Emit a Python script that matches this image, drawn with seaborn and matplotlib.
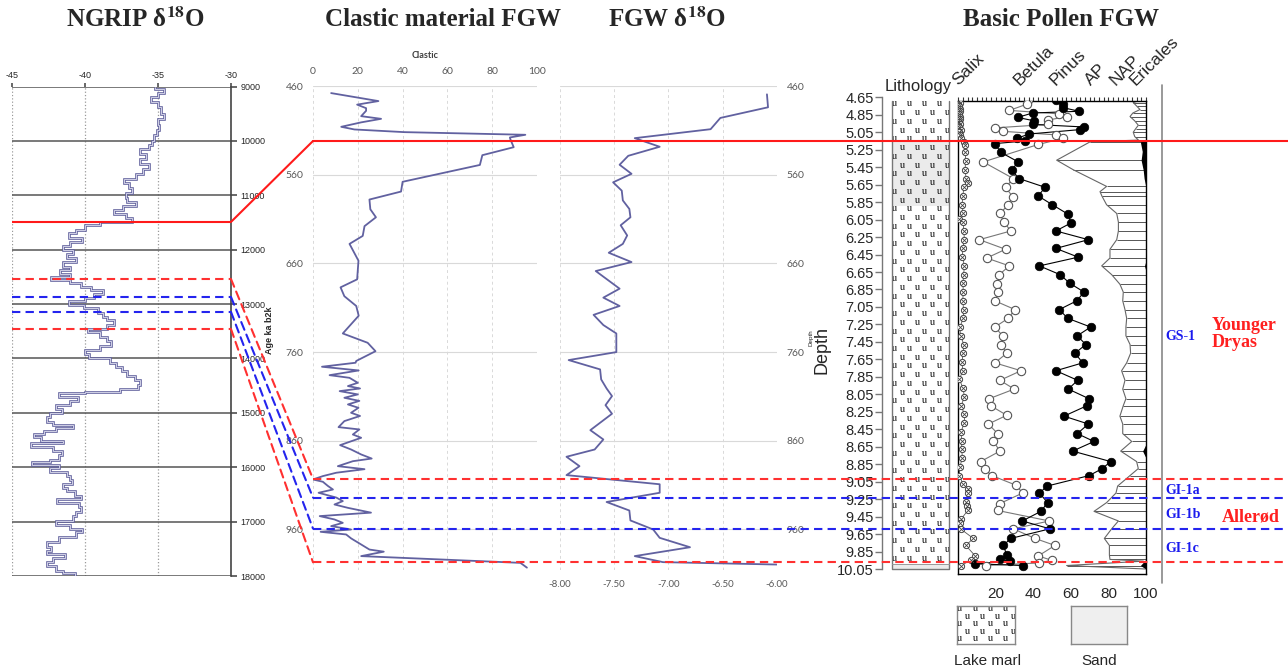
import numpy as np
import matplotlib
matplotlib.use("Agg")
import matplotlib.pyplot as plt
import seaborn as sns
from matplotlib.lines import Line2D
from matplotlib.patches import Rectangle, ConnectionPatch
from matplotlib.transforms import blended_transform_factory
from matplotlib.ticker import MultipleLocator, FormatStrFormatter

# ---------------- NGRIP d18O (stepped record, age b2k) ----------------
ngrip_age_top = [
    9000, 9050, 9120, 9200, 9280, 9380, 9500, 9600, 9700, 9800,
    9900, 10000, 10080, 10150, 10250, 10330, 10420, 10520, 10600, 10700,
    10780, 10870, 10950, 11050, 11120, 11200, 11270, 11350, 11420, 11490,
    11540, 11630, 11700, 11780, 11850, 11930, 12000, 12080, 12150, 12230,
    12310, 12380, 12450, 12500, 12560, 12620, 12680, 12740, 12820, 12880,
    12950, 13020, 13080, 13160, 13230, 13300, 13380, 13450, 13520, 13600,
    13680, 13770, 13850, 13920, 14000, 14080, 14150, 14230, 14320, 14400,
    14480, 14560, 14610, 14640, 14700, 14780, 14850, 14930, 15000, 15080,
    15160, 15220, 15270, 15330, 15380, 15450, 15510, 15560, 15620, 15700,
    15780, 15860, 15910, 15960, 16020, 16080, 16160, 16230, 16300, 16380,
    16440, 16520, 16580, 16660, 16740, 16820, 16900, 16980, 17060, 17130,
    17200, 17290, 17370, 17460, 17540, 17600, 17660, 17740, 17820, 17900,
    17950]
ngrip_age_end = 18000
ngrip_d18o = [
    -35.2, -34.6, -35.0, -35.5, -35.0, -34.8, -34.6, -35.0, -34.9, -35.1,
    -35.3, -35.4, -35.6, -36.2, -35.8, -36.2, -35.6, -36.0, -36.5, -37.3,
    -37.0, -36.8, -37.2, -37.1, -36.5, -37.4, -38.0, -37.2, -36.8, -39.0,
    -40.0, -40.6, -41.1, -40.2, -41.0, -41.5, -40.8, -41.2, -40.6, -41.5,
    -41.0, -41.7, -41.0, -42.3, -41.0, -40.3, -39.6, -38.8, -39.4, -40.0,
    -41.1, -40.1, -39.1, -38.8, -38.5, -38.0, -38.5, -39.8, -39.0, -38.5,
    -38.2, -39.0, -40.0, -39.7, -38.3, -37.9, -37.5, -37.1, -36.6, -36.2,
    -36.4, -37.6, -40.0, -41.8, -40.5, -41.0, -42.0, -41.6, -42.4, -42.6,
    -42.2, -40.8, -42.0, -42.8, -43.5, -43.0, -41.5, -43.7, -42.2, -41.6,
    -41.8, -42.4, -43.6, -41.8, -42.4, -41.2, -41.0, -40.9, -41.5, -41.2,
    -40.7, -40.3, -41.9, -40.4, -40.3, -40.6, -40.8, -42.0, -41.0, -40.2,
    -40.6, -41.8, -42.6, -42.3, -42.6, -41.4, -42.2, -42.6, -42.0, -41.5,
    -40.7]

# ---------------- Clastic material FGW (%) vs depth (cm) ----------------
clastic_depth = [
    468, 477, 481, 485, 488, 494, 497, 501, 506, 509,
    512, 515, 518, 520, 529, 538, 549, 568, 579, 588,
    599, 608, 618, 629, 638, 657, 678, 687, 697, 708,
    719, 739, 749.5, 759, 770, 772, 776.5, 780.7, 786, 789,
    794.6, 798.3, 801, 804, 807.7, 811.5, 815, 819, 822.8, 828.4,
    832, 837.8, 844.6, 847.2, 852.9, 856.6, 864.9, 869.8, 875.4, 880,
    883, 888.6, 892, 896, 899.8, 903.6, 906.2, 911, 914.9, 918.6,
    924, 928, 931.8, 935.6, 941, 944.9, 948.7, 952.5, 956.2, 960,
    962.6, 965.6, 970, 976.9, 982.6, 985, 990, 997.6, 1003]
clastic_pct = [
    8.1, 29.2, 19.7, 23.7, 23.7, 21.5, 30.4, 21.5, 12.6, 18.5,
    40.7, 94.8, 87.9, 88.1, 89.6, 75.6, 74.5, 40.0, 39.3, 25.2,
    25.6, 28.1, 23.0, 22.2, 16.3, 20.3, 19.7, 12.3, 14.0, 19.3,
    20.4, 13.3, 24.4, 27.9, 19.3, 19.0, 4.0, 20.4, 7.4, 16.3,
    20.0, 15.6, 21.0, 11.9, 20.0, 14.0, 20.7, 15.6, 20.3, 17.0,
    21.0, 14.0, 11.4, 20.7, 17.8, 21.5, 12.1, 17.0, 21.5, 26.2,
    17.8, 11.1, 23.0, 10.4, 4.4, 0.0, 4.4, 6.7, 8.9, 2.5,
    10.4, 13.3, 9.6, 15.6, 25.9, 3.0, 9.6, 13.3, 8.1, 17.0,
    3.4, 14.8, 17.0, 21.5, 25.2, 31.6, 21.5, 92.6, 95.5]

# ---------------- FGW d18O vs depth (cm) ----------------
fgw_depth = [
    469.4, 484, 496, 508.7, 518.8, 528.5, 538.7, 548.8, 559, 568.6,
    578, 589, 598.6, 608, 617, 628.5, 638, 648, 658.5, 668.6,
    688.5, 698.6, 708, 718, 729.5, 739, 760, 769, 779.5, 790.8,
    801, 809.6, 819.8, 829.5, 848, 858.5, 869.8, 878, 888.6, 898.7,
    909, 918.6, 929, 938.6, 949.8, 960, 969.4, 980, 990, 996.8,
    999.5]
fgw_d18o = [
    -6.09, -6.08, -6.52, -6.61, -7.31, -7.08, -7.37, -7.45, -7.34, -7.51,
    -7.43, -7.42, -7.36, -7.35, -7.44, -7.38, -7.42, -7.55, -7.34, -7.67,
    -7.45, -7.60, -7.45, -7.69, -7.60, -7.48, -7.48, -7.92, -7.63, -7.62,
    -7.57, -7.52, -7.58, -7.52, -7.72, -7.60, -7.68, -7.94, -7.82, -7.94,
    -7.08, -7.08, -7.57, -7.36, -7.35, -7.14, -7.08, -6.80, -7.31, -7.05,
    -6.00]

# ---------------- Pollen FGW (% vs depth in m) ----------------
salix_depth = [
    4.66, 4.69, 4.72, 4.75, 4.78, 4.81, 4.84, 4.87, 4.90, 4.93,
    4.96, 4.99, 5.02, 5.05, 5.08, 5.12, 5.16, 5.20, 5.28, 5.38,
    5.48, 5.58, 5.63, 5.68, 5.78, 5.88, 5.98, 6.04, 6.08, 6.18,
    6.28, 6.38, 6.48, 6.58, 6.68, 6.78, 6.88, 6.98, 7.08, 7.18,
    7.28, 7.38, 7.48, 7.58, 7.68, 7.78, 7.88, 7.98, 8.08, 8.18,
    8.28, 8.38, 8.48, 8.58, 8.68, 8.78, 8.88, 8.98, 9.08, 9.13,
    9.18, 9.28, 9.33, 9.38, 9.48, 9.52, 9.59, 9.70, 9.78, 9.90,
    9.95, 10.01]
salix_pct = [
    1.0, 0.6, 0.8, 0.5, 1.0, 0.7, 0.4, 0.8, 1.1, 0.6,
    0.9, 0.5, 1.2, 0.4, 0.8, 1.5, 3.0, 3.5, 3.8, 3.9,
    3.6, 4.2, 5.0, 3.0, 2.4, 2.0, 2.6, 0.4, 2.5, 3.0,
    3.2, 2.4, 2.2, 3.3, 2.8, 2.5, 2.6, 2.4, 2.8, 2.7,
    0.8, 1.2, 3.0, 2.5, 2.0, 2.3, 0.6, 2.5, 3.3, 1.5,
    3.3, 3.2, 1.4, 1.8, 1.8, 2.2, 0.8, 0.6, 2.5, 5.3,
    5.0, 4.0, 4.5, 5.0, 1.5, 0.8, 1.2, 8.0, 4.0, 9.0,
    6.5, 1.5]

betula_depth = [
    4.68, 4.73, 4.80, 4.84, 4.87, 4.91, 4.96, 5.00, 5.04, 5.08,
    5.12, 5.19, 5.39, 5.58, 5.68, 5.79, 5.88, 5.98, 6.08, 6.18,
    6.28, 6.39, 6.49, 6.58, 6.68, 6.79, 6.88, 6.98, 7.08, 7.18,
    7.28, 7.38, 7.48, 7.58, 7.69, 7.78, 7.89, 7.99, 8.10, 8.18,
    8.29, 8.39, 8.50, 8.59, 8.70, 8.82, 8.91, 8.98, 9.09, 9.18,
    9.30, 9.38, 9.50, 9.59, 9.70, 9.78, 9.90, 9.95, 9.98, 10.01]
betula_pct = [
    37.3, 36.4, 27.2, 53.8, 58.0, 48.0, 48.0, 19.5, 24.0, 52.0,
    56.0, 42.6, 13.3, 29.3, 25.2, 29.0, 26.6, 22.2, 24.3, 28.0,
    11.2, 25.2, 15.1, 27.2, 21.8, 20.8, 21.3, 19.5, 30.2, 26.6,
    19.5, 23.6, 22.6, 25.8, 19.5, 33.4, 22.2, 29.8, 16.5, 17.2,
    25.8, 16.0, 21.0, 18.7, 22.2, 11.9, 14.2, 17.8, 30.7, 34.3,
    22.2, 21.0, 48.5, 29.3, 40.9, 51.5, 42.6, 49.7, 43.2, 14.6]

pinus_depth = [
    4.68, 4.73, 4.77, 4.81, 4.83, 4.88, 4.92, 4.96, 4.99, 5.02,
    5.07, 5.12, 5.15, 5.18, 5.28, 5.39, 5.48, 5.58, 5.68, 5.78,
    5.88, 5.99, 6.09, 6.18, 6.28, 6.38, 6.48, 6.58, 6.68, 6.78,
    6.88, 6.98, 7.08, 7.18, 7.28, 7.38, 7.48, 7.58, 7.69, 7.78,
    7.89, 7.99, 8.10, 8.18, 8.30, 8.39, 8.50, 8.59, 8.70, 8.82,
    8.90, 8.98, 9.10, 9.18, 9.29, 9.39, 9.50, 9.59, 9.70, 9.78,
    9.89, 9.94, 9.96, 9.99, 10.01]
pinus_pct = [
    52.0, 55.6, 56.0, 64.5, 39.6, 31.6, 40.5, 39.6, 67.1, 64.8,
    37.8, 31.1, 35.5, 19.5, 22.6, 32.0, 28.4, 32.3, 46.2, 42.6,
    50.1, 58.6, 59.9, 52.0, 69.3, 52.0, 63.9, 43.2, 54.2, 59.5,
    67.0, 63.1, 53.8, 58.3, 70.5, 63.4, 67.9, 62.2, 66.3, 52.0,
    63.6, 58.6, 69.6, 68.6, 56.3, 69.3, 63.4, 72.3, 60.9, 81.2,
    76.7, 69.8, 47.4, 43.2, 47.6, 44.0, 34.1, 48.8, 27.9, 24.0,
    25.8, 22.2, 27.5, 8.9, 34.6]

ap_depth = [
    4.66, 4.68, 4.71, 4.75, 4.79, 4.83, 4.87, 4.92, 4.97, 5.01,
    5.05, 5.10, 5.14, 5.16, 5.37, 5.48, 5.67, 5.73, 5.78, 5.88,
    5.98, 6.08, 6.18, 6.28, 6.39, 6.49, 6.58, 6.68, 6.79, 6.88,
    6.98, 7.08, 7.18, 7.28, 7.38, 7.48, 7.58, 7.69, 7.78, 7.89,
    7.99, 8.10, 8.18, 8.30, 8.39, 8.50, 8.59, 8.70, 8.82, 8.90,
    8.98, 9.10, 9.18, 9.29, 9.39, 9.50, 9.59, 9.70, 9.78, 9.89,
    9.94, 9.96, 10.01, 10.05]
ap_pct = [
    96.0, 97.7, 93.2, 95.0, 96.8, 93.0, 91.5, 94.0, 95.9, 94.5,
    93.2, 94.0, 96.0, 70.2, 52.4, 61.3, 79.0, 75.5, 76.5, 79.0,
    84.4, 85.3, 85.3, 84.4, 80.8, 80.8, 76.4, 81.7, 86.1, 87.9,
    87.6, 88.8, 89.7, 89.3, 89.3, 91.5, 91.8, 89.7, 87.0, 88.8,
    87.6, 89.3, 87.9, 86.1, 87.6, 87.6, 92.4, 86.5, 95.0, 95.9,
    91.5, 84.9, 84.0, 79.0, 72.3, 85.3, 81.7, 77.8, 80.5, 80.5,
    80.8, 98.6, 57.7, 100.0]

ericales_depth = [4.66, 5.14, 5.16, 5.27, 5.37, 5.48, 5.58, 5.68, 6.52, 6.58,
                  6.64, 8.62, 8.70, 8.78, 9.94, 10.01, 10.05]
ericales_pct = [0, 0, 3.0, 2.0, 2.6, 1.5, 1.0, 0, 0, 0.8,
                0, 0, 1.8, 0, 0, 3.0, 0]

# Lithology: sand intervals (m), the rest is lake marl
sand_units = [(5.15, 5.90), (9.99, 10.05)]
litho_top, litho_base = 4.69, 10.05

# Event boundaries: NGRIP age and FGW depth (cm)
bound_age = [11490, 12540, 12870, 13145, 13460]
bound_depth_cm = [522, 903, 924, 959, 997]
bound_kind = ["red_solid", "red", "blue", "blue", "red"]

# Zone labels
stadial_labels = ["GS-1", "GI-1a", "GI-1b", "GI-1c"]
period_labels = ["Younger\nDryas", "Allerød"]

# ---------------- figure ----------------
sns.set_theme(style="ticks")
plt.rcParams["font.family"] = ["Liberation Sans", "DejaVu Sans"]
plt.rcParams["mathtext.fontset"] = "stix"
plt.rcParams["axes.unicode_minus"] = False

W, H = 1288, 670
fig = plt.figure(figsize=(W / 100, H / 100), dpi=100)


def box(x0, y0, x1, y1):
    return [x0 / W, 1 - y1 / H, (x1 - x0) / W, (y1 - y0) / H]


line_col = "#6161a0"
excel_grey = "#595959"

# ---- NGRIP panel ----
ax_ng = fig.add_axes(box(12, 86.5, 231, 576))
ax_ng.set_axisbelow(True)
edges = ngrip_age_top + [ngrip_age_end]
ax_ng.stairs(ngrip_d18o, edges, orientation="horizontal", baseline=None,
             color="#64649e", lw=1.9)
ax_ng.stairs(ngrip_d18o, edges, orientation="horizontal", baseline=None,
             color="#e2e2f2", lw=0.6)
ax_ng.set_xlim(-45, -30)
ax_ng.set_ylim(18000, 9000)
ax_ng.set_xticks([-45, -40, -35, -30])
ax_ng.set_yticks(range(9000, 18001, 1000))
ax_ng.tick_params(axis="x", top=True, bottom=False, labeltop=True, labelbottom=False,
                  length=3, pad=2, labelsize=6.5, color="#555")
ax_ng.tick_params(axis="y", right=True, left=False, labelright=True, labelleft=False,
                  length=4, pad=3, labelsize=6.5, color="#555")
ax_ng.grid(axis="y", color="#555555", lw=1.1, ls="-")
ax_ng.grid(axis="x", color="#9a9a9a", lw=0.9, ls=":")
for s in ["top", "bottom", "left"]:
    ax_ng.spines[s].set_visible(False)
ax_ng.spines["right"].set_color("#444")
ax_ng.spines["right"].set_linewidth(1.2)
fig.text(270 / W, 1 - 330 / H, "Age ka b2k", rotation=90, ha="center", va="center",
         fontsize=6.5, fontweight="bold")

# ---- Clastic panel ----
ax_cl = fig.add_axes(box(313, 86, 537, 570.3))
ax_cl.set_axisbelow(True)
sns.lineplot(x=clastic_pct, y=clastic_depth, sort=False, orient="y", estimator=None,
             ax=ax_cl, color=line_col, linewidth=1.3)
ax_cl.set_xlim(0, 100)
ax_cl.set_ylim(1006, 460)
ax_cl.set_xticks(range(0, 101, 20))
ax_cl.set_yticks(range(460, 961, 100))
ax_cl.tick_params(axis="x", top=True, bottom=False, labeltop=True, labelbottom=False,
                  length=0, pad=7, labelsize=7.5, labelcolor=excel_grey)
ax_cl.tick_params(axis="y", length=0, pad=7, labelsize=7.5, labelcolor=excel_grey)
for lab in ax_cl.get_xticklabels() + ax_cl.get_yticklabels():
    lab.set_family("Lato")
ax_cl.yaxis.grid(True, color="#d9d9d9", lw=0.8)
ax_cl.xaxis.grid(True, color="#d9d9d9", lw=0.7, ls=(0, (3, 3)))
for s in ax_cl.spines.values():
    s.set_visible(False)
ax_cl.set_xlabel("")
ax_cl.set_ylabel("")
fig.text(425 / W, 1 - 55 / H, "Clastic", ha="center", va="center", fontsize=6.5,
         fontweight="bold", color="#404040", family="Lato")

# ---- FGW d18O panel ----
ax_fg = fig.add_axes(box(560, 86, 776.7, 570.3))
ax_fg.set_axisbelow(True)
sns.lineplot(x=fgw_d18o, y=fgw_depth, sort=False, orient="y", estimator=None,
             ax=ax_fg, color=line_col, linewidth=1.3)
ax_fg.set_xlim(-8, -6)
ax_fg.set_ylim(1006, 460)
ax_fg.set_xticks(np.arange(-8, -5.99, 0.5))
ax_fg.xaxis.set_major_formatter(FormatStrFormatter("%.2f"))
ax_fg.set_yticks(range(460, 961, 100))
ax_fg.tick_params(axis="x", length=0, pad=7, labelsize=7, labelcolor=excel_grey)
ax_fg.tick_params(axis="y", left=False, right=False, labelleft=False, labelright=True,
                  length=0, pad=7, labelsize=7.5, labelcolor=excel_grey)
for lab in ax_fg.get_xticklabels() + ax_fg.get_yticklabels():
    lab.set_family("Lato")
ax_fg.yaxis.grid(True, color="#d9d9d9", lw=0.8)
ax_fg.xaxis.grid(True, color="#d9d9d9", lw=0.7, ls=(0, (3, 3)))
for s in ax_fg.spines.values():
    s.set_visible(False)
ax_fg.set_xlabel("")
ax_fg.set_ylabel("")

# ---- Lithology column with depth axis ----
ax_li = fig.add_axes(box(882, 95.55, 958.3, 574))
ax_li.set_xlim(0, 76.3)
ax_li.set_ylim(10.107, 4.63)
for s in ["top", "right", "bottom"]:
    ax_li.spines[s].set_visible(False)
ax_li.spines["left"].set_color("#777")
ax_li.spines["left"].set_linewidth(1.0)
ax_li.spines["left"].set_bounds(4.65, 10.05)
depth_ticks = np.round(np.arange(4.65, 10.06, 0.2), 2)
ax_li.set_yticks(depth_ticks)
ax_li.yaxis.set_major_formatter(FormatStrFormatter("%.2f"))
ax_li.tick_params(axis="y", length=5, width=1, color="#777", pad=1, labelsize=10.5)
ax_li.set_xticks([])
ax_li.add_patch(Rectangle((10, litho_top), 57, litho_base - litho_top,
                          facecolor="white", edgecolor="none", zorder=0))
for top, base in sand_units:
    ax_li.add_patch(Rectangle((10, top), 57, base - top, facecolor="#ebebeb",
                              edgecolor="none", zorder=1))
ax_li.plot([10, 10, 67, 67], [litho_top, litho_base, litho_base, litho_top],
           color="#777", lw=1.0, zorder=3)
ax_li.plot([10, 67], [sand_units[-1][0]] * 2, color="#999", lw=0.7, zorder=3)


def marl_marks(ax, rows, x_even, x_odd, size):
    xs, ys = [], []
    for i, r in enumerate(rows):
        cols = x_even if i % 2 == 0 else x_odd
        xs.extend(cols)
        ys.extend([r] * len(cols))
    ax.scatter(xs, ys, marker="$\\mathrm{u}$", s=size, color="black",
               linewidths=0, zorder=2)


marl_marks(ax_li, np.arange(4.72, 9.98, 0.1), [12, 27, 42, 57], [19.5, 34.5, 49.5, 64.5], 13)
fig.text(918 / W, 1 - 87 / H, "Lithology", ha="center", va="center", fontsize=12)
fig.text(822 / W, 1 - 350 / H, "Depth", rotation=90, ha="center", va="center", fontsize=13)
fig.text(811 / W, 1 - 338 / H, "Depth", rotation=90, ha="center", va="center", fontsize=4.5)

# ---- Pollen curves ----
ax_po = fig.add_axes(box(958.3, 100.7, 1146, 574))
ax_po.set_xlim(0, 100)
ax_po.set_ylim(10.107, 4.689)
# NAP hatching from the AP curve to 100 %
ax_po.hlines(ap_depth, ap_pct, 100, color="#555", lw=0.7, zorder=1)
ax_po.plot(ap_pct, ap_depth, color="#666", lw=0.8, zorder=1)
ax_po.fill_betweenx(ericales_depth, 100 - np.array(ericales_pct), 100,
                    color="black", lw=0, zorder=2)
# Salix
sns.lineplot(x=salix_pct, y=salix_depth, sort=False, orient="y", estimator=None,
             ax=ax_po, color="#555", linewidth=0.6)
ax_po.scatter(salix_pct, salix_depth, s=20, facecolor="white", edgecolor="#444",
              linewidths=0.7, zorder=4)
ax_po.scatter(salix_pct, salix_depth, s=12, marker="x", color="#444",
              linewidths=0.6, zorder=5)
# Betula
sns.lineplot(x=betula_pct, y=betula_depth, sort=False, orient="y", estimator=None,
             ax=ax_po, color="#777", linewidth=0.8)
sns.scatterplot(x=betula_pct, y=betula_depth, ax=ax_po, s=36, color="white",
                edgecolor="#555", linewidth=0.8, zorder=4)
# Pinus
sns.lineplot(x=pinus_pct, y=pinus_depth, sort=False, orient="y", estimator=None,
             ax=ax_po, color="black", linewidth=0.8)
sns.scatterplot(x=pinus_pct, y=pinus_depth, ax=ax_po, s=38, color="black",
                edgecolor="black", linewidth=0.5, zorder=4)
ax_po.set_xlabel("")
ax_po.set_ylabel("")
ax_po.set_xticks([20, 40, 60, 80, 100])
ax_po.xaxis.set_minor_locator(MultipleLocator(2.5))
ax_po.tick_params(axis="x", which="both", top=True, bottom=False, labeltop=False,
                  labelbottom=True, direction="out", length=3, width=0.8, color="#333",
                  labelsize=11, pad=6)
ax_po.set_yticks([])
for s in ax_po.spines.values():
    s.set_color("black")
    s.set_linewidth(1.0)

taxa = ["Salix", "Betula", "Pinus", "AP", "NAP", "Ericales"]
taxa_x = [960, 1022, 1058, 1093, 1118, 1138]
for name, xp in zip(taxa, taxa_x):
    fig.text(xp / W, 1 - 88 / H, name, rotation=45, rotation_mode="anchor",
             ha="left", va="bottom", fontsize=12.5)

# ---- lithology key ----
ax_k1 = fig.add_axes(box(957, 606, 1015, 644))
ax_k1.set_xlim(0, 58)
ax_k1.set_ylim(38, 0)
marl_marks(ax_k1, [2, 9.5, 17, 24.5, 32], [2, 18, 33, 48], [10, 25, 40, 56], 13)
ax_k2 = fig.add_axes(box(1071, 606, 1127, 644), facecolor="#efefef")
for ax_k in (ax_k1, ax_k2):
    ax_k.set_xticks([])
    ax_k.set_yticks([])
    for s in ax_k.spines.values():
        s.set_color("#888")
        s.set_linewidth(1.0)
fig.text(987 / W, 1 - 661 / H, "Lake marl", ha="center", va="center", fontsize=11)
fig.text(1099 / W, 1 - 661 / H, "Sand", ha="center", va="center", fontsize=11)

# ---- event boundaries ----
styles = {"red_solid": ("#ff1a1a", "-"),
          "red": ("#ff3030", (0, (4, 2.5))),
          "blue": ("#2424ee", (0, (4, 2.5)))}
to_fig_x = blended_transform_factory(fig.transFigure, ax_cl.transData)
for age, dep, kind in zip(bound_age, bound_depth_cm, bound_kind):
    col, ls = styles[kind]
    ax_ng.axhline(age, color=col, ls=ls, lw=1.5, zorder=5)
    fig.add_artist(Line2D([313 / W, 1.0], [dep, dep], transform=to_fig_x,
                          color=col, ls=ls, lw=1.5, zorder=6))
    fig.add_artist(ConnectionPatch(xyA=(-30, age), coordsA=ax_ng.transData,
                                   xyB=(0, dep), coordsB=ax_cl.transData,
                                   color=col, ls=ls, lw=1.5, zorder=6))

# zone divider
fig.add_artist(Line2D([1162 / W, 1162 / W], [1 - 85 / H, 1 - 583 / H],
                      transform=fig.transFigure, color="#888", lw=1.2))

serif = ["Liberation Serif", "DejaVu Serif"]
for lab, yp in zip(stadial_labels, [337, 491, 514, 549]):
    fig.text(1165 / W, 1 - yp / H, lab, ha="left", va="center", fontsize=10,
             fontweight="bold", color="#1a1aee", family=serif)
fig.text(1212 / W, 1 - 334 / H, period_labels[0], ha="left", va="center", fontsize=13,
         fontweight="bold", color="#ff2020", family=serif, linespacing=1.0)
fig.text(1222 / W, 1 - 517 / H, period_labels[1], ha="left", va="center", fontsize=13,
         fontweight="bold", color="#ff2020", family=serif)

# ---- titles ----
titles = ["NGRIP δ$^{\\mathbf{18}}$O", "Clastic material FGW", "FGW δ$^{\\mathbf{18}}$O",
          "Basic Pollen FGW"]
for t, xp in zip(titles, [136, 443, 667, 1061]):
    fig.text(xp / W, 1 - 20 / H, t, ha="center", va="center", fontsize=18,
             fontweight="bold", family=serif)

fig.savefig("out.png", dpi=100)
